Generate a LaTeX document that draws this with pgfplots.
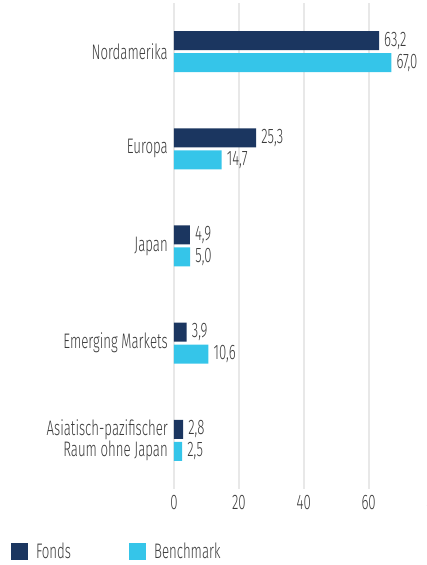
\documentclass[border=0pt]{standalone}
\usepackage{fontspec}
\setmainfont{Fira Sans Light}[FakeStretch=0.63]
\usepackage{pgfplots}
\pgfplotsset{compat=1.18}
\definecolor{fonds}{HTML}{1B3660}
\definecolor{bench}{HTML}{35C5E9}
\definecolor{txt}{HTML}{3A3A3A}
\definecolor{gridc}{HTML}{E8E8E8}
\newcommand{\lblfont}{\fontsize{21}{16.7}\selectfont}
\begin{document}
\begin{tikzpicture}[x=1pt,y=1pt]
\begin{axis}[
  at={(0,0)}, anchor=south west,
  scale only axis, width=259.5pt, height=486pt,
  xmin=0, xmax=80, ymin=-0.5, ymax=4.5,
  xtick={0,20,40,60,80},
  xticklabels={0,20,40,60,80},
  ytick={0,1,2,3,4},
  yticklabels={{Asiatisch-pazifischer\\Raum ohne Japan},Emerging Markets,Japan,Europa,Nordamerika},
  xmajorgrids, major grid style={draw=gridc, line width=2pt},
  axis line style={draw=none},
  major tick length=0pt,
  tick style={draw=none},
  ticklabel style={font=\lblfont, text=txt},
  yticklabel style={align=right, inner sep=0pt, xshift=-6pt},
  xticklabel style={inner sep=0pt, yshift=-6pt},
  xbar, bar width=19pt,
  nodes near coords,
  nodes near coords style={font=\lblfont, text=txt, anchor=west, inner sep=0pt, xshift=5pt,
    /pgf/number format/.cd, fixed, fixed zerofill, precision=1, use comma, assume math mode=true},
  legend columns=2,
  legend cell align=left,
  legend image code/.code={\fill (0pt,-8.5pt) rectangle (17pt,8.5pt);},
  legend style={draw=none, fill=none, inner sep=0pt, outer sep=0pt,
    at={(axis description cs:-0.628,-0.1286)}, anchor=west,
    nodes={inner sep=0pt, font=\lblfont, text=txt},
    /tikz/every odd column/.append style={column sep=8pt},
    /tikz/every even column/.append style={column sep=58pt}},
]
\addplot[fill=fonds, draw=none, bar shift=11pt] coordinates {(63.2,4) (25.3,3) (4.9,2) (3.9,1) (2.8,0)};
\addlegendentry{Fonds}
\addplot[fill=bench, draw=none, bar shift=-11pt] coordinates {(67.0,4) (14.7,3) (5.0,2) (10.6,1) (2.5,0)};
\addlegendentry{Benchmark}
\end{axis}
\pgfresetboundingbox
\path[use as bounding box] (-174pt,-76pt) rectangle (253pt,489pt);
\end{tikzpicture}
\end{document}
